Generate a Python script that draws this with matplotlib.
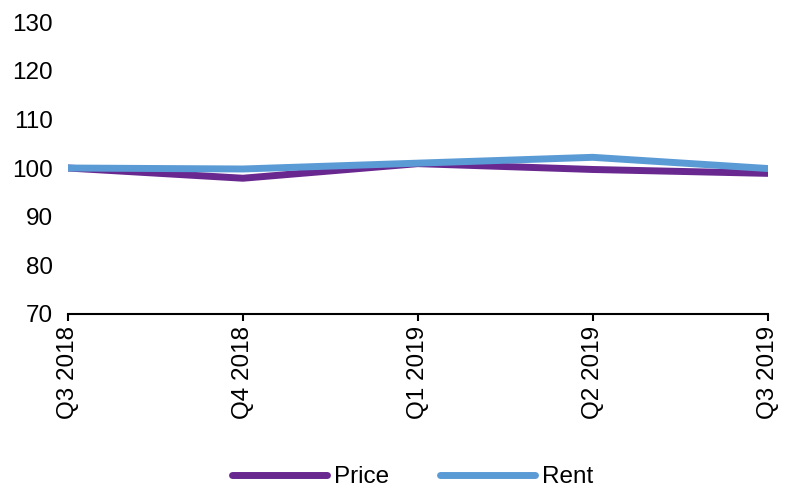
import matplotlib.pyplot as plt

quarters = ['Q3 2018', 'Q4 2018', 'Q1 2019', 'Q2 2019', 'Q3 2019']
price = [100.0, 97.9, 100.9, 99.7, 98.9]
rent = [100.0, 99.8, 101.0, 102.2, 99.9]

plt.rcParams['font.family'] = ['Liberation Sans', 'DejaVu Sans']

fig = plt.figure(figsize=(7.86, 4.92), dpi=100)
ax = fig.add_axes([0.0865, 0.362, 0.89, 0.593])

x = range(len(quarters))
ax.plot(x, price, color='#68288F', lw=5, solid_capstyle='round', label='Price')
ax.plot(x, rent, color='#5B9BD5', lw=5, solid_capstyle='round', label='Rent')

ax.set_xlim(0, len(quarters) - 1)
ax.set_ylim(70, 130)
ax.set_yticks(range(70, 131, 10))
ax.set_xticks(list(x))
ax.set_xticklabels(quarters, rotation=90)
ax.tick_params(axis='both', labelsize=17.5)
ax.tick_params(axis='y', length=0, pad=11)
ax.tick_params(axis='x', length=5, width=1.5, color='black', direction='out')

for s in ['top', 'right', 'left']:
    ax.spines[s].set_visible(False)
ax.spines['bottom'].set_linewidth(1.5)

fig.legend(loc='center', bbox_to_anchor=(0.525, 0.03), ncol=2, frameon=False,
           fontsize=17.5, handlelength=3.9, columnspacing=2.1, handletextpad=0.3,
           borderpad=0.1)

plt.savefig('out.png')
